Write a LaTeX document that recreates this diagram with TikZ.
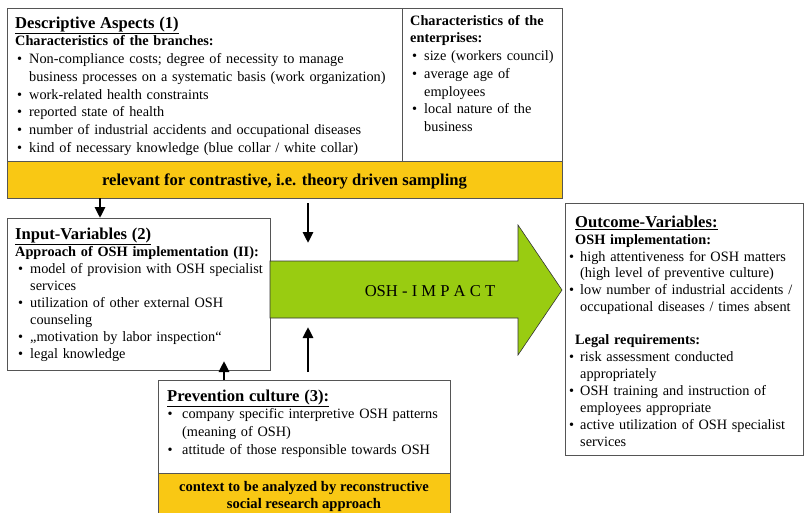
\documentclass[tikz,border=0pt]{standalone}
\usepackage{fontspec}
\setmainfont{Liberation Serif}
\usetikzlibrary{arrows.meta}

\definecolor{bandyellow}{RGB}{249,200,20}
\definecolor{impactgreen}{RGB}{153,204,17}
\definecolor{boxline}{RGB}{85,85,85}

\newlength\bulletoff
\newlength\textoff
\newcommand\bodysize{\fontsize{14.3}{17.7}\selectfont}
\newcommand\boxtitle[1]{\noindent{\fontsize{16.6}{18}\selectfont\underline{\textbf{#1}}}}
\newcommand\boxhead[1]{\par\noindent\textbf{#1}}
\newcommand\itm[1]{\par\noindent\hangindent=\textoff\hangafter=1%
  \makebox[\textoff][l]{\hspace{\bulletoff}\textbullet}#1}

\tikzset{
  box/.style={draw=boxline, line width=0.9pt, inner sep=0pt, outer sep=0pt, anchor=north west},
  band/.style={box, fill=bandyellow},
  txt/.style={anchor=north west, inner sep=0pt, text width=#1, align=left, font=\bodysize},
  ind/.style 2 args={execute at begin node={\raggedright\setlength{\bulletoff}{#1}\setlength{\textoff}{#2}}},
  bandtext/.style={inner sep=0pt, align=center},
  push/.style={line width=2.8pt, -{Triangle[length=11pt,width=10pt]}},
}

\begin{document}
\begin{tikzpicture}[x=1pt,y=-1pt]
\useasboundingbox (0,0) rectangle (805,512);

% descriptive aspects
\node[box, minimum width=395, minimum height=153] (descL) at (7,8) {};
\node[box, minimum width=160, minimum height=153] (descR) at (402,8) {};
\node[band, minimum width=555, minimum height=37] (descband) at (7,161) {};
\node[bandtext, font=\fontsize{16.6}{18}\selectfont\bfseries] (sampling) at ([yshift=-1.5pt]descband.center)
  {relevant for contrastive, i.e. theory driven sampling};

\node[txt=390pt, ind={2pt}{14pt}] (descLtxt) at (15,16.5) {%
  \boxtitle{Descriptive Aspects (1)}%
  \boxhead{Characteristics of the branches:}%
  \itm{Non-compliance costs; degree of necessity to manage\newline business processes on a systematic basis (work organization)}%
  \itm{work-related health constraints}%
  \itm{reported state of health}%
  \itm{number of industrial accidents and occupational diseases}%
  \itm{kind of necessary knowledge (blue collar / white collar)}\par};

\node[txt=155pt, ind={2pt}{14pt}] (descRtxt) at (410,15) {%
  \noindent\textbf{Characteristics of the\newline enterprises:}%
  \itm{size (workers council)}%
  \itm{average age of\newline employees}%
  \itm{local nature of the\newline business}\par};

% input variables
\node[box, minimum width=263, minimum height=152] (input) at (7,218) {};
\node[txt=260pt, ind={3pt}{15pt}] (inputtxt) at (15,228) {%
  \fontsize{14.3}{17}\selectfont
  \boxtitle{Input-Variables (2)}%
  \boxhead{Approach of OSH implementation (II):}%
  \itm{model of provision with OSH specialist\newline services}%
  \itm{utilization of other external OSH\newline counseling}%
  \itm{„motivation by labor inspection“}%
  \itm{legal knowledge}\par};

% impact arrow
\path[draw=black!80, line width=0.6pt, fill=impactgreen]
  (input.east |- 0,261) -- (518,261) -- (518,225) -- (562,290)
  -- (518,355) -- (518,318) -- (input.east |- 0,318) -- cycle;
\node[inner sep=0pt, font=\fontsize{16.6}{18}\selectfont] (impact) at (430,291) {OSH - I M P A C T};

% outcome variables
\node[box, minimum width=238, minimum height=252] (outcome) at (565,203) {};
\node[txt=235pt, ind={-6pt}{5pt}] (outcometxt) at (575,215.5) {%
  \fontsize{14.3}{16.9}\selectfont
  \boxtitle{Outcome-Variables:}%
  \boxhead{OSH implementation:}%
  \itm{high attentiveness for OSH matters\newline (high level of preventive culture)}%
  \itm{low number of industrial accidents /\newline occupational diseases / times absent}%
  \par\vspace{16pt}%
  \boxhead{Legal requirements:}%
  \itm{risk assessment conducted\newline appropriately}%
  \itm{OSH training and instruction of\newline employees appropriate}%
  \itm{active utilization of OSH specialist\newline services}\par};

% prevention culture
\node[box, minimum width=292, minimum height=93] (prev) at (158,380) {};
\node[band, minimum width=292, minimum height=50] (prevband) at (158,473) {};
\node[bandtext, font=\fontsize{14.6}{17}\selectfont\bfseries] (context) at (304,496.5)
  {context to be analyzed by reconstructive\\social research approach};
\node[txt=285pt, ind={0.5pt}{15pt}] (prevtxt) at (167,389.5) {%
  \boxtitle{Prevention culture (3):}%
  \itm{company specific interpretive OSH patterns\newline (meaning of OSH)}%
  \itm{attitude of those responsible towards OSH}\par};

% influence arrows
\coordinate (downstart) at (308,203);
\coordinate (downend) at (308,243);
\coordinate (upstart) at (308,372);
\coordinate (upend) at (308,327);
\draw[push] ([xshift=93pt]descband.south west) -- ([xshift=93pt]input.north west);
\draw[push] (downstart) -- (downend);
\draw[push] (upstart) -- (upend);
\draw[push] ([xshift=66pt]prev.north west) -- ([xshift=217pt,yshift=9pt]input.south west);
\end{tikzpicture}
\end{document}
